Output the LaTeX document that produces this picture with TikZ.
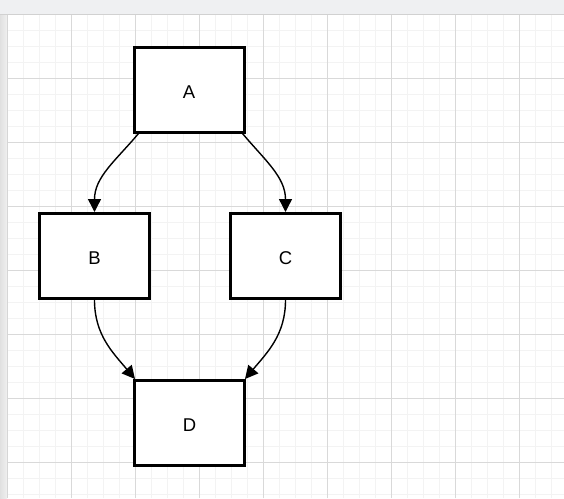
\documentclass[tikz,border=0pt]{standalone}
\usepackage{fontspec}
\setmainfont{Liberation Sans}
\usetikzlibrary{arrows.meta}
\definecolor{minorline}{HTML}{F3F3F3}
\definecolor{majorline}{HTML}{D9D9D9}
\definecolor{toolbar}{HTML}{EFF0F2}
\begin{document}
\begin{tikzpicture}[x=1pt, y=1pt,
    box/.style={draw, line width=3pt, fill=white, minimum width=110pt, minimum height=85pt, text height=17pt, text depth=0pt, font=\fontsize{18.5}{22}\selectfont},
    link/.style={line width=1.4pt, -{Triangle[length=13pt, width=13pt]}}]
  \useasboundingbox (0,0) rectangle (564,-498);
  % Page background and grid
  \fill[white] (0,0) rectangle (564,-498);
  \begin{scope}[shift={(7.7,-14.3)}]
    \draw[minorline, line width=1pt, step=16] (0,0) grid (557,-484);
    \draw[majorline, line width=1pt, step=64] (0,0) grid (557,-484);
  \end{scope}
  % Window edges
  \shade[left color=black!12, right color=black!6] (0,-14) rectangle (7,-498);
  \draw[black!16, line width=1pt] (7.5,-14) -- (7.5,-498);
  \fill[toolbar] (0,0) rectangle (564,-14);
  \draw[black!18, line width=1pt] (0,-14) -- (564,-14);
  % Boxes
  \node[box] (A) at (189,-89.5) {A};
  \node[box] (B) at (94.5,-256) {B};
  \node[box] (C) at (285.5,-256) {C};
  \node[box] (D) at (189.5,-423) {D};
  % Connectors
  \draw[link] ([xshift=6pt]A.south west) to[out=230, in=90] (B.north);
  \draw[link] ([xshift=-3pt]A.south east) to[out=-50, in=90] (C.north);
  \draw[link] (B.south) to[out=-90, in=130] ([xshift=2pt]D.north west);
  \draw[link] (C.south) to[out=-90, in=50] ([xshift=-1pt]D.north east);
\end{tikzpicture}
\end{document}
